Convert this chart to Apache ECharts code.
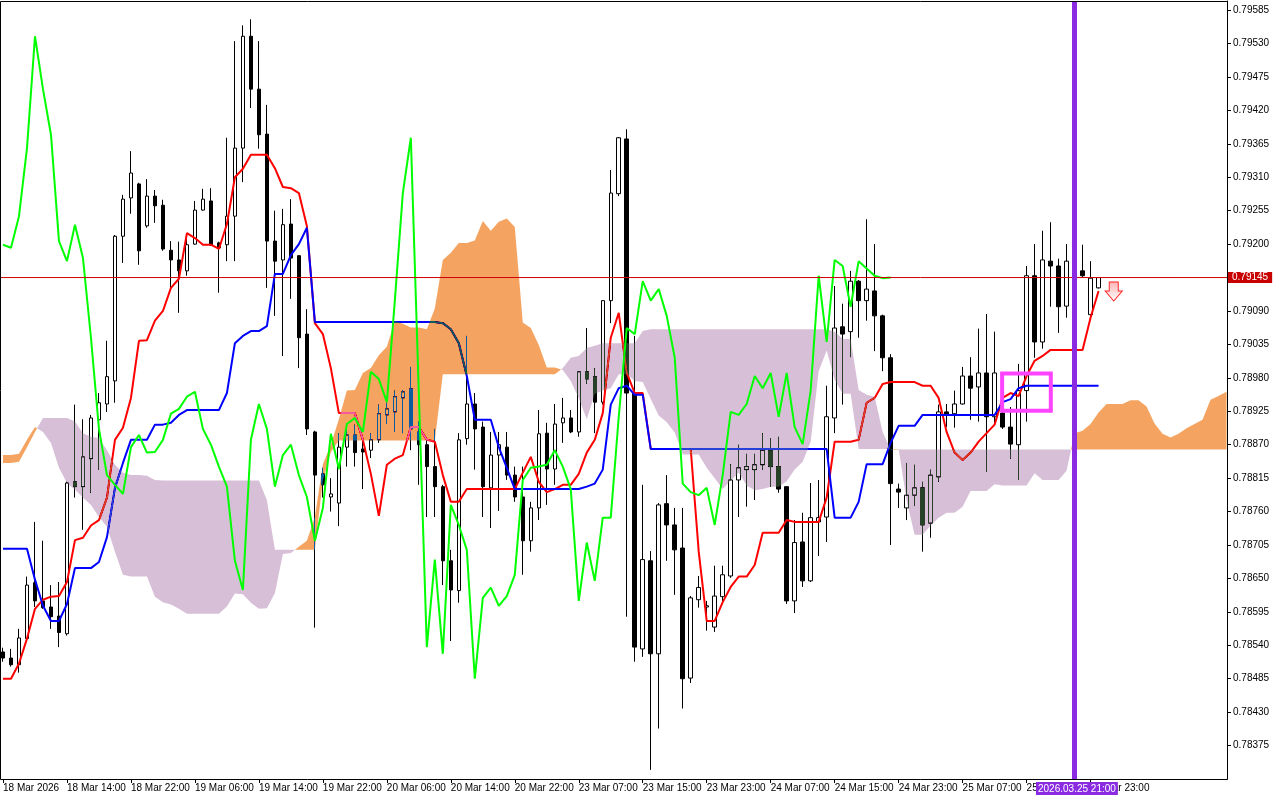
<!DOCTYPE html>
<html>
<head>
<meta charset="utf-8">
<title>H1 Ichimoku</title>
<script src="https://cdn.jsdelivr.net/npm/echarts@6.0.0/dist/echarts.min.js"></script>
<style>
  html, body { margin: 0; padding: 0; background: #fff; }
  #chart { width: 1280px; height: 800px; }
</style>
</head>
<body>
<div id="chart"></div>
<script>
// H1 bars, index 0 = 18 Mar 06:00 ... 137 = 26 Mar 00:00
const openP = [0.78529,0.78519,0.78508,0.78551,0.78643,0.78613,0.78603,0.78588,0.78559,0.78809,
  0.78801,0.78847,0.78911,0.78937,0.78975,0.79213,0.79276,0.79299,0.79230,0.79279,
  0.79264,0.79190,0.79174,0.79156,0.79200,0.79256,0.79271,0.79202,0.79199,0.79246,
  0.79358,0.79542,0.79455,0.79381,0.79205,0.79174,0.79233,0.79181,0.79052,0.78891,
  0.78822,0.78784,0.78774,0.78866,0.78886,0.78863,0.78861,0.78878,0.78919,0.78924,
  0.78947,0.78962,0.78891,0.78870,0.78834,0.78801,0.78679,0.78630,0.78880,0.78937,
  0.78899,0.78799,0.78853,0.78866,0.78820,0.78784,0.78712,0.78766,0.78889,0.78830,
  0.78906,0.78914,0.78891,0.78990,0.78982,0.78940,0.79107,0.79283,0.79373,0.78955,
  0.78534,0.78679,0.78526,0.78773,0.78738,0.78700,0.78486,0.78615,0.78603,0.78570,
  0.78620,0.78654,0.78812,0.78829,0.78829,0.78837,0.78861,0.78834,0.78801,0.78613,
  0.78710,0.78646,0.78743,0.78751,0.78914,0.79064,0.79056,0.79139,0.79107,0.79123,
  0.79082,0.79013,0.78797,0.78766,0.78787,0.78799,0.78741,0.78817,0.78924,0.78921,
  0.78937,0.78983,0.78965,0.78988,0.78916,0.78922,0.78899,0.78870,0.78959,0.79148,
  0.79039,0.79172,0.79164,0.79098,0.79172,0.79156,0.79084,0.79128];
const highP = [0.78536,0.78534,0.78567,0.78653,0.78743,0.78712,0.78639,0.78644,0.78809,0.78936,
  0.78912,0.78919,0.78955,0.79041,0.79215,0.79281,0.79353,0.79301,0.79307,0.79289,
  0.79273,0.79205,0.79204,0.79209,0.79271,0.79291,0.79292,0.79204,0.79375,0.79534,
  0.79560,0.79570,0.79534,0.79429,0.79255,0.79258,0.79274,0.79182,0.79093,0.78893,
  0.78832,0.78815,0.78889,0.78899,0.78903,0.78883,0.78889,0.78936,0.78939,0.78959,
  0.78960,0.78998,0.78908,0.78881,0.78896,0.78804,0.78697,0.78889,0.79049,0.78955,
  0.78908,0.78891,0.78891,0.78891,0.78834,0.78834,0.78776,0.78927,0.78906,0.78937,
  0.78947,0.78927,0.78991,0.79062,0.78996,0.79108,0.79322,0.79376,0.79389,0.79049,
  0.78804,0.78695,0.78774,0.78820,0.78766,0.78766,0.78621,0.78654,0.78613,0.78671,
  0.78671,0.78838,0.78870,0.78855,0.78855,0.78889,0.78881,0.78883,0.78802,0.78746,
  0.78758,0.78807,0.78812,0.78967,0.79131,0.79102,0.79156,0.79141,0.79241,0.79200,
  0.79084,0.79019,0.78806,0.78840,0.78837,0.78809,0.78829,0.78936,0.78937,0.78959,
  0.78998,0.79014,0.79061,0.79085,0.79056,0.78936,0.78932,0.79003,0.79164,0.79200,
  0.79222,0.79236,0.79176,0.79200,0.79200,0.79199,0.79172,0.79146];
const lowP = [0.78513,0.78505,0.78495,0.78546,0.78603,0.78600,0.78567,0.78537,0.78556,0.78783,
  0.78730,0.78791,0.78829,0.78924,0.78939,0.79169,0.79250,0.79166,0.79227,0.79235,
  0.79189,0.79128,0.79087,0.79148,0.79199,0.79255,0.79197,0.79120,0.79172,0.79172,
  0.79302,0.79424,0.79357,0.79128,0.79082,0.79016,0.79110,0.78996,0.78886,0.78569,
  0.78783,0.78760,0.78736,0.78834,0.78834,0.78797,0.78848,0.78873,0.78904,0.78891,
  0.78889,0.78861,0.78804,0.78751,0.78751,0.78639,0.78547,0.78610,0.78870,0.78829,
  0.78751,0.78733,0.78761,0.78812,0.78776,0.78656,0.78694,0.78746,0.78771,0.78804,
  0.78873,0.78889,0.78883,0.78970,0.78889,0.78936,0.79070,0.79279,0.78587,0.78513,
  0.78521,0.78335,0.78403,0.78679,0.78623,0.78436,0.78478,0.78602,0.78564,0.78562,
  0.78611,0.78651,0.78751,0.78768,0.78779,0.78829,0.78801,0.78791,0.78608,0.78593,
  0.78636,0.78644,0.78687,0.78710,0.78889,0.78936,0.79014,0.79046,0.79074,0.79024,
  0.78991,0.78705,0.78766,0.78746,0.78769,0.78694,0.78717,0.78809,0.78899,0.78898,
  0.78936,0.78911,0.78908,0.78825,0.78903,0.78896,0.78847,0.78812,0.78908,0.79013,
  0.79028,0.79097,0.79054,0.79079,0.79150,0.79146,0.79082,0.79127];
const closeP = [0.78519,0.78508,0.78552,0.78639,0.78613,0.78602,0.78587,0.78561,0.78807,0.78801,
  0.78850,0.78914,0.78939,0.78982,0.79213,0.79274,0.79317,0.79189,0.79279,0.79263,
  0.79192,0.79174,0.79156,0.79199,0.79256,0.79274,0.79199,0.79194,0.79246,0.79358,
  0.79542,0.79455,0.79380,0.79205,0.79172,0.79232,0.79177,0.79046,0.78896,0.78820,
  0.78804,0.78789,0.78866,0.78886,0.78857,0.78858,0.78878,0.78921,0.78929,0.78949,
  0.78957,0.78896,0.78870,0.78834,0.78801,0.78679,0.78631,0.78878,0.78937,0.78896,
  0.78801,0.78853,0.78870,0.78820,0.78784,0.78712,0.78766,0.78888,0.78830,0.78904,
  0.78914,0.78891,0.78990,0.78978,0.78940,0.79107,0.79284,0.79375,0.78955,0.78537,
  0.78681,0.78526,0.78771,0.78738,0.78697,0.78485,0.78618,0.78635,0.78605,0.78621,
  0.78656,0.78812,0.78832,0.78834,0.78837,0.78861,0.78834,0.78797,0.78613,0.78709,
  0.78646,0.78750,0.78750,0.78916,0.79062,0.79052,0.79139,0.79107,0.79126,0.79082,
  0.79013,0.78806,0.78792,0.78787,0.78799,0.78738,0.78820,0.78924,0.78919,0.78937,
  0.78983,0.78963,0.78988,0.78916,0.78988,0.78899,0.78871,0.78959,0.79148,0.79039,
  0.79174,0.79164,0.79097,0.79172,0.79160,0.79148,0.79144,0.79145];

// Ichimoku lines
const tenkan = [0.78485,0.78485,0.78510,0.78551,0.78600,0.78615,0.78620,0.78621,0.78644,0.78713,
  0.78717,0.78737,0.78746,0.78783,0.78878,0.78898,0.78947,0.79041,0.79042,0.79074,
  0.79090,0.79128,0.79143,0.79218,0.79210,0.79199,0.79199,0.79192,0.79233,0.79310,
  0.79324,0.79347,0.79347,0.79347,0.79325,0.79294,0.79292,0.79284,0.79230,0.79070,
  0.79052,0.78996,0.78922,0.78922,0.78922,0.78878,0.78822,0.78753,0.78837,0.78847,
  0.78853,0.78899,0.78899,0.78878,0.78875,0.78820,0.78776,0.78776,0.78797,0.78797,
  0.78797,0.78797,0.78797,0.78797,0.78797,0.78824,0.78850,0.78809,0.78792,0.78797,
  0.78804,0.78804,0.78822,0.78857,0.78878,0.78922,0.79046,0.79087,0.78988,0.78955,
  0.78955,0.78863,0.78863,0.78863,0.78863,0.78863,0.78863,0.78694,0.78580,0.78580,
  0.78611,0.78636,0.78653,0.78653,0.78672,0.78725,0.78725,0.78725,0.78746,0.78743,
  0.78743,0.78743,0.78743,0.78783,0.78875,0.78875,0.78875,0.78878,0.78939,0.78947,
  0.78970,0.78973,0.78973,0.78973,0.78973,0.78967,0.78967,0.78947,0.78891,0.78857,
  0.78845,0.78857,0.78875,0.78889,0.78903,0.78947,0.78955,0.78950,0.78983,0.79008,
  0.79016,0.79026,0.79026,0.79026,0.79026,0.79026,0.79079,0.79123];
const kijun = [0.78699,0.78699,0.78699,0.78699,0.78648,0.78605,0.78580,0.78580,0.78608,0.78667,
  0.78667,0.78667,0.78677,0.78718,0.78799,0.78840,0.78878,0.78878,0.78878,0.78903,
  0.78903,0.78906,0.78919,0.78927,0.78927,0.78927,0.78927,0.78927,0.78955,0.79037,
  0.79049,0.79057,0.79057,0.79065,0.79151,0.79151,0.79182,0.79200,0.79227,0.79072,
  0.79072,0.79072,0.79072,0.79072,0.79072,0.79072,0.79072,0.79072,0.79072,0.79072,
  0.79072,0.79072,0.79072,0.79072,0.79072,0.79070,0.79060,0.79037,0.78983,0.78911,
  0.78911,0.78911,0.78866,0.78832,0.78797,0.78797,0.78797,0.78797,0.78797,0.78797,
  0.78797,0.78797,0.78797,0.78801,0.78806,0.78829,0.78936,0.78963,0.78967,0.78952,
  0.78952,0.78863,0.78863,0.78863,0.78863,0.78863,0.78863,0.78863,0.78863,0.78863,
  0.78863,0.78863,0.78863,0.78863,0.78863,0.78863,0.78863,0.78863,0.78863,0.78863,
  0.78863,0.78863,0.78863,0.78863,0.78750,0.78750,0.78750,0.78776,0.78838,0.78838,
  0.78838,0.78873,0.78901,0.78901,0.78901,0.78919,0.78919,0.78919,0.78919,0.78919,
  0.78919,0.78919,0.78919,0.78919,0.78919,0.78940,0.78945,0.78963,0.78967,0.78967,
  0.78967,0.78967,0.78967,0.78967,0.78967,0.78967,0.78967,0.78967];
// chikou span, plotted from bar 0 to bar 111
const chikou = [0.79199,0.79194,0.79246,0.79358,0.79542,0.79455,0.79380,0.79205,0.79172,0.79232,
  0.79177,0.79046,0.78896,0.78820,0.78804,0.78789,0.78866,0.78886,0.78857,0.78858,
  0.78878,0.78921,0.78929,0.78949,0.78957,0.78896,0.78870,0.78834,0.78801,0.78679,
  0.78631,0.78878,0.78937,0.78896,0.78801,0.78853,0.78870,0.78820,0.78784,0.78712,
  0.78766,0.78888,0.78830,0.78904,0.78914,0.78891,0.78990,0.78978,0.78940,0.79107,
  0.79284,0.79375,0.78955,0.78537,0.78681,0.78526,0.78771,0.78738,0.78697,0.78485,
  0.78618,0.78635,0.78605,0.78621,0.78656,0.78812,0.78832,0.78834,0.78837,0.78861,
  0.78834,0.78797,0.78613,0.78709,0.78646,0.78750,0.78750,0.78916,0.79062,0.79052,
  0.79139,0.79107,0.79126,0.79082,0.79013,0.78806,0.78792,0.78787,0.78799,0.78738,
  0.78820,0.78924,0.78919,0.78937,0.78983,0.78963,0.78988,0.78916,0.78988,0.78899,
  0.78871,0.78959,0.79148,0.79039,0.79174,0.79164,0.79097,0.79172,0.79160,0.79148,
  0.79144,0.79145];
// senkou spans, bar 0 .. 153 (26 bars past the last candle)
const spanA = [0.78853,0.78853,0.78855,0.78878,0.78899,0.78891,0.78873,0.78832,0.78807,0.78796,
  0.78783,0.78771,0.78751,0.78735,0.78694,0.78656,0.78653,0.78653,0.78653,0.78620,
  0.78611,0.78607,0.78600,0.78592,0.78592,0.78592,0.78592,0.78592,0.78604,0.78625,
  0.78624,0.78610,0.78600,0.78601,0.78626,0.78690,0.78692,0.78702,0.78712,0.78751,
  0.78838,0.78870,0.78912,0.78959,0.78960,0.78988,0.78996,0.79017,0.79031,0.79073,
  0.79069,0.79063,0.79063,0.79060,0.79094,0.79174,0.79186,0.79202,0.79202,0.79206,
  0.79238,0.79222,0.79237,0.79242,0.79228,0.79071,0.79062,0.79034,0.78997,0.78997,
  0.78993,0.78975,0.78947,0.78912,0.78954,0.78959,0.78963,0.78986,0.78986,0.78975,
  0.78973,0.78945,0.78918,0.78907,0.78890,0.78854,0.78854,0.78854,0.78832,0.78815,
  0.78797,0.78811,0.78824,0.78803,0.78795,0.78797,0.78801,0.78801,0.78810,0.78829,
  0.78842,0.78875,0.78991,0.79025,0.78977,0.78954,0.78954,0.78863,0.78863,0.78863,
  0.78863,0.78863,0.78863,0.78778,0.78722,0.78722,0.78737,0.78750,0.78758,0.78758,
  0.78768,0.78794,0.78794,0.78794,0.78805,0.78803,0.78803,0.78803,0.78803,0.78823,
  0.78812,0.78812,0.78812,0.78827,0.78889,0.78893,0.78904,0.78923,0.78937,0.78937,
  0.78937,0.78943,0.78943,0.78933,0.78905,0.78888,0.78882,0.78888,0.78897,0.78904,
  0.78911,0.78944,0.78950,0.78957];
const spanB = [0.78840,0.78840,0.78842,0.78866,0.78891,0.78914,0.78914,0.78914,0.78914,0.78908,
  0.78889,0.78883,0.78881,0.78861,0.78837,0.78824,0.78820,0.78820,0.78819,0.78812,
  0.78811,0.78811,0.78811,0.78811,0.78811,0.78811,0.78811,0.78811,0.78811,0.78811,
  0.78811,0.78811,0.78811,0.78779,0.78697,0.78697,0.78697,0.78697,0.78697,0.78697,
  0.78812,0.78858,0.78877,0.78877,0.78877,0.78877,0.78877,0.78877,0.78877,0.78877,
  0.78877,0.78877,0.78877,0.78877,0.78877,0.78986,0.78986,0.78986,0.78986,0.78986,
  0.78986,0.78986,0.78986,0.78986,0.78986,0.78986,0.78986,0.78986,0.78986,0.78986,
  0.78996,0.79013,0.79016,0.79029,0.79033,0.79037,0.79037,0.79037,0.79037,0.79037,
  0.79057,0.79060,0.79060,0.79060,0.79060,0.79060,0.79060,0.79060,0.79060,0.79060,
  0.79060,0.79060,0.79060,0.79060,0.79060,0.79060,0.79060,0.79060,0.79060,0.79060,
  0.79060,0.79060,0.79060,0.79060,0.79056,0.79044,0.79044,0.78960,0.78952,0.78949,
  0.78891,0.78862,0.78862,0.78862,0.78862,0.78862,0.78862,0.78862,0.78862,0.78862,
  0.78862,0.78862,0.78862,0.78862,0.78862,0.78862,0.78862,0.78862,0.78862,0.78862,
  0.78862,0.78862,0.78862,0.78862,0.78862,0.78862,0.78862,0.78862,0.78862,0.78862,
  0.78862,0.78862,0.78862,0.78862,0.78862,0.78862,0.78862,0.78862,0.78862,0.78862,
  0.78862,0.78862,0.78862,0.78862];

// axis labels
const timeLabels = ['18 Mar 2026', '18 Mar 14:00', '18 Mar 22:00', '19 Mar 06:00', '19 Mar 14:00',
  '19 Mar 22:00', '20 Mar 06:00', '20 Mar 14:00', '20 Mar 22:00', '23 Mar 07:00', '23 Mar 15:00',
  '23 Mar 23:00', '24 Mar 07:00', '24 Mar 15:00', '24 Mar 23:00', '25 Mar 07:00', '25 Mar 15:00',
  '25 Mar 23:00'];
const timeLabelBars = [0, 8, 16, 24, 32, 40, 48, 56, 64, 72, 80, 88, 96, 104, 112, 120, 128, 136];
const priceTicks = [0.78375, 0.78430, 0.78485, 0.78540, 0.78595, 0.78650, 0.78705, 0.78760,
  0.78815, 0.78870, 0.78925, 0.78980, 0.79035, 0.79090, 0.79145, 0.79200, 0.79255, 0.79310,
  0.79365, 0.79420, 0.79475, 0.79530, 0.79585];

// objects on the chart
const lastPrice = 0.79145;
const vlineBar = 134;
const vlineText = '2026.03.25 21:00';
const boxCorners = [[124.94, 0.78987], [131.03, 0.78926]];
const sellArrow = [138.9, 0.79122];

const X_MIN = -0.3125, X_MAX = 153.0625;
const FONT = 'Liberation Sans';

const chart = echarts.init(document.getElementById('chart'));

const candles = openP.map((o, i) => [i, o, closeP[i], lowP[i], highP[i]]);
const toXY = arr => arr.map((v, i) => [i, v]);

// split the cloud into runs where spanA stays above (or below) spanB
function cloudRuns() {
  const runs = [];
  let cur = null;
  for (let i = 0; i < spanA.length; i++) {
    const up = spanA[i] >= spanB[i];
    if (cur && cur.up !== up) {
      const d0 = spanA[i - 1] - spanB[i - 1];
      const d1 = spanA[i] - spanB[i];
      const t = d0 / (d0 - d1);
      const cx = i - 1 + t;
      const cy = spanA[i - 1] + (spanA[i] - spanA[i - 1]) * t;
      cur.a.push([cx, cy]); cur.b.push([cx, cy]);
      runs.push(cur);
      cur = { up, a: [[cx, cy]], b: [[cx, cy]] };
    }
    if (!cur) cur = { up, a: [], b: [] };
    cur.a.push([i, spanA[i]]);
    cur.b.push([i, spanB[i]]);
  }
  runs.push(cur);
  return runs;
}
const runs = cloudRuns();

// MT5 paints the cloud XOR-like over the price; 'difference' with the inverted colour does the same
const ORANGE_INV = 'rgb(11,91,159)';   // sandybrown
const THISTLE_INV = 'rgb(39,64,39)';   // thistle

const option = {
  backgroundColor: '#fff',
  animation: false,
  grid: { left: 0, right: 53, top: 1, bottom: 21 },
  xAxis: {
    type: 'value',
    min: X_MIN, max: X_MAX,
    splitLine: { show: false },
    axisLine: { show: false, onZero: false },
    axisTick: { show: true, customValues: timeLabelBars, length: 4, lineStyle: { color: '#000' } },
    axisLabel: {
      customValues: timeLabelBars,
      formatter: v => timeLabels[timeLabelBars.indexOf(Math.round(v))],
      align: 'left', margin: 4,
      fontFamily: FONT, fontSize: 10, color: '#000'
    }
  },
  yAxis: {
    type: 'value', position: 'right',
    min: 0.7832, max: 0.796,
    splitLine: { show: false },
    axisLine: { show: true, onZero: false, lineStyle: { color: '#000', width: 1 } },
    axisTick: { show: true, inside: false, customValues: priceTicks, length: 4, lineStyle: { color: '#000' } },
    axisLabel: {
      customValues: priceTicks,
      formatter: v => v.toFixed(5),
      margin: 6,
      fontFamily: FONT, fontSize: 10, color: '#000'
    }
  },
  graphic: [
    { type: 'rect', silent: true, z: 100,
      shape: { x: 0.5, y: 1.5, width: 1227, height: 778 },
      style: { fill: null, stroke: '#000', lineWidth: 1 } },
    { type: 'text', silent: true, z: 100, left: 1036, top: 782,
      style: { text: vlineText, fill: '#fff', backgroundColor: '#8A2BE2', padding: [2, 2, 1, 2],
        font: '10px "Liberation Sans"' } }
  ],
  series: [
    {
      type: 'candlestick', z: 2, silent: true,
      data: candles,
      encode: { x: 0, y: [1, 2, 3, 4] },
      barWidth: 4,
      itemStyle: {
        color: '#fff', color0: '#000',
        borderColor: '#000', borderColor0: '#000', borderColorDoji: '#000',
        borderWidth: 1
      },
      markLine: {
        z: 10, silent: true, symbol: ['none', 'none'], animation: false, precision: 5,
        data: [
          { xAxis: vlineBar,
            lineStyle: { color: '#8A2BE2', width: 5, type: 'solid' },
            label: { show: false } }
        ]
      },
      markArea: {
        z: 9, silent: true,
        itemStyle: { color: 'rgba(0,0,0,0)', borderColor: '#FF44FF', borderWidth: 4 },
        data: [[{ coord: boxCorners[0] }, { coord: boxCorners[1] }]]
      },
      markPoint: {
        z: 10, silent: true,
        data: [{
          coord: sellArrow,
          symbol: 'path://M4,0 L13,0 L13,9 L17,9 L8.5,19 L0,9 L4,9 Z',
          symbolSize: [17, 19],
          itemStyle: {
            color: new echarts.graphic.LinearGradient(0, 0, 0, 1, [
              { offset: 0, color: '#FFB4B4' }, { offset: 1, color: '#FFFFFF' }
            ]),
            borderColor: '#FF2020', borderWidth: 1
          },
          label: { show: false }
        }]
      }
    },
    { type: 'line', z: 3, silent: true, data: toXY(tenkan), showSymbol: false,
      lineStyle: { color: '#FF0000', width: 2 } },
    { type: 'line', z: 3, silent: true, data: toXY(kijun), showSymbol: false,
      lineStyle: { color: '#0000FF', width: 2 } },
    {
      type: 'custom', z: 4, silent: true,
      blendMode: 'difference',
      data: runs.map(r => [r.a[0][0], r.a[0][1]]),
      encode: { x: 0, y: 1 },
      renderItem: (params, api) => {
        const r = runs[params.dataIndex];
        const pts = r.a.concat(r.b.slice().reverse()).map(p => api.coord(p));
        return {
          type: 'polygon',
          shape: { points: pts },
          style: { fill: r.up ? ORANGE_INV : THISTLE_INV, stroke: null }
        };
      }
    },
    { type: 'line', z: 5, silent: true, data: toXY(chikou), showSymbol: false,
      lineStyle: { color: '#00FF00', width: 2 } },
    // bid line with its price tag on the scale
    { type: 'line', z: 6, silent: true, showSymbol: false,
      data: [[X_MIN, lastPrice], [X_MAX, lastPrice]],
      lineStyle: { color: '#D00000', width: 1 },
      endLabel: { show: true, distance: 1, formatter: lastPrice.toFixed(5),
        color: '#fff', backgroundColor: '#C80000', padding: [1, 4, 0, 4],
        fontFamily: FONT, fontSize: 10 } }
  ]
};

chart.setOption(option);
</script>
</body>
</html>
